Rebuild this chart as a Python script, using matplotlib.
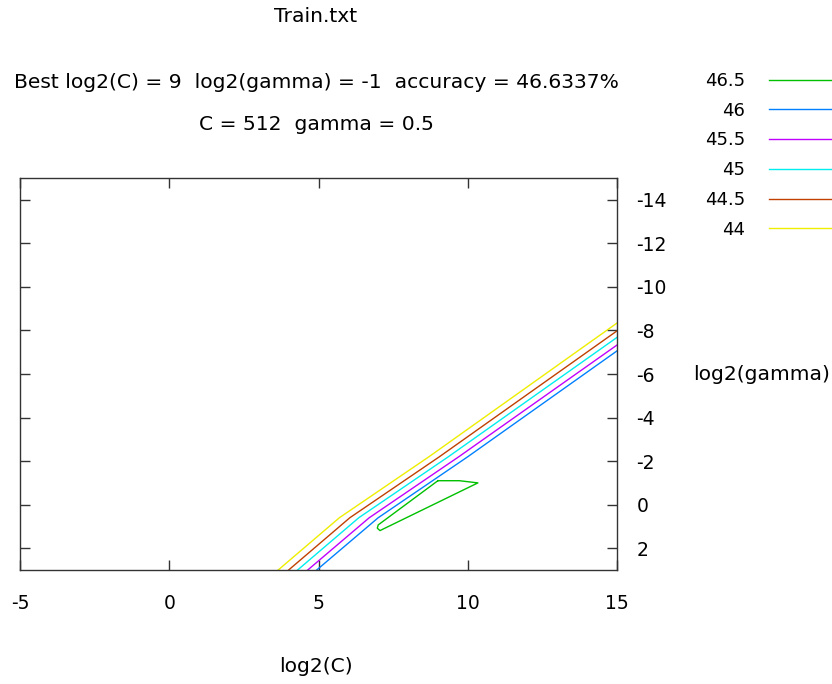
import matplotlib
matplotlib.use("Agg")
import matplotlib.pyplot as plt

plt.rcParams['font.family'] = ['DejaVu Sans']
plt.rcParams['axes.unicode_minus'] = False

# contour levels (accuracy %) and their colours, in key order
levels = ["46.5", "46", "45.5", "45", "44.5", "44"]
colors = ["#00c000", "#0080ff", "#c000ff", "#00eeee", "#c04000", "#eeee00"]

# contour lines: log2(C), log2(gamma)
c_465 = [9.0, 9.72, 10.34, 7.06, 6.97, 7.0, 9.0]
g_465 = [-1.1, -1.1, -1.0, 1.19, 1.08, 0.93, -1.1]
c_46 = [4.94, 7.0, 10.0, 15.0]
g_46 = [3.0, 0.6, -2.2, -7.06]
c_455 = [4.64, 6.7, 9.7, 15.0]
g_455 = [3.0, 0.6, -2.2, -7.33]
c_45 = [4.3, 6.35, 9.35, 15.0]
g_45 = [3.0, 0.6, -2.2, -7.68]
c_445 = [4.0, 6.05, 9.05, 15.0]
g_445 = [3.0, 0.6, -2.2, -7.98]
c_44 = [3.65, 5.7, 8.7, 15.0]
g_44 = [3.0, 0.6, -2.2, -8.34]

xs = [c_465, c_46, c_455, c_45, c_445, c_44]
ys = [g_465, g_46, g_455, g_45, g_445, g_44]

xticks = [-5, 0, 5, 10, 15]
yticks = [-14, -12, -10, -8, -6, -4, -2, 0, 2]

fs_title = 14.6
fs_tick = 13.5
fs_key = 13

fig = plt.figure(figsize=(8.32, 6.84), dpi=100)
ax = fig.add_axes([20 / 832, 114 / 684, 597 / 832, 392 / 684])

for x, y, lab, col in zip(xs, ys, levels, colors):
    ax.plot(x, y, color=col, lw=1, label=lab)

ax.set_xlim(-5, 15)
ax.set_ylim(3, -15)
ax.set_xticks(xticks)
ax.set_yticks(yticks)
ax.tick_params(direction='in', length=7, width=1, color='#333333',
               top=True, right=True, left=True, bottom=True,
               labelleft=False, labelright=True, labelsize=fs_tick)
ax.tick_params(axis='x', pad=17)
ax.tick_params(axis='y', pad=14)
for s in ax.spines.values():
    s.set_color('#333333')
    s.set_linewidth(1)

# title block
fig.text(316 / 832, 1 - 17 / 684, "Train.txt", ha='center', va='center', fontsize=fs_title)
fig.text(316 / 832, 1 - 82 / 684,
         "Best log2(C) = 9  log2(gamma) = -1  accuracy = 46.6337%",
         ha='center', va='center', fontsize=fs_title)
fig.text(316 / 832, 1 - 125 / 684, "C = 512  gamma = 0.5",
         ha='center', va='center', fontsize=fs_title)
fig.text(316 / 832, 1 - 666 / 684, "log2(C)", ha='center', va='center', fontsize=fs_title)
fig.text(762 / 832, 1 - 375 / 684, "log2(gamma)", ha='center', va='center', fontsize=fs_title)

fig.legend(loc='upper right', bbox_to_anchor=(1.0, 1 - 72 / 684),
           frameon=False, markerfirst=False, fontsize=fs_key,
           handlelength=3.5, handletextpad=1.3, labelspacing=0.65,
           borderaxespad=0, borderpad=0)

fig.savefig("out.png", dpi=100)
